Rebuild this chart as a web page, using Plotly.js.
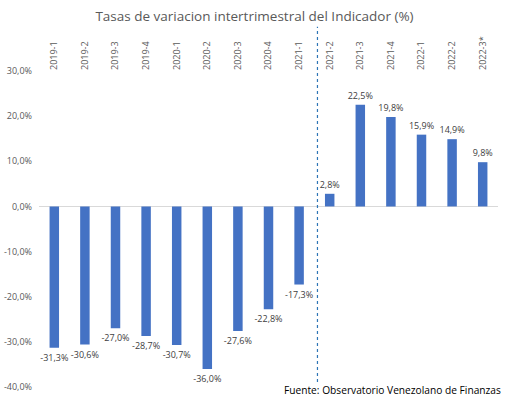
<!DOCTYPE html>
<html>
<head>
<meta charset="utf-8">
<script src="https://cdn.plot.ly/plotly-3.0.1.min.js"></script>
<style>html,body{margin:0;padding:0;background:#fff;}#chart{width:509px;height:399px;}</style>
</head>
<body>
<div id="chart"></div>
<script>
const categories = ["2019-1","2019-2","2019-3","2019-4","2020-1","2020-2","2020-3","2020-4","2021-1","2021-2","2021-3","2021-4","2022-1","2022-2","2022-3*"];
const values = [-31.3,-30.6,-27.0,-28.7,-30.7,-36.0,-27.6,-22.8,-17.3,2.8,22.5,19.8,15.9,14.9,9.8];
const yTicks = [-40,-30,-20,-10,0,10,20,30];
const yTickLabels = ["-40,0%","-30,0%","-20,0%","-10,0%","0,0%","10,0%","20,0%","30,0%"];
const titleText = "Tasas de variacion intertrimestral del Indicador (%)";
const sourceText = "Fuente: Observatorio Venezolano de Finanzas";
const dividerPosition = 8.6;

const font = "Open Sans, Noto Sans, sans-serif";
const trace = {
  type: "bar",
  x: categories,
  y: values,
  marker: {color: "#4472C4"},
  texttemplate: "%{y:.1f}%",
  textposition: "outside",
  constraintext: "none",
  cliponaxis: false,
  textfont: {family: font, size: 9, color: "#404040"},
  hoverinfo: "none"
};
const layout = {
  width: 509, height: 399,
  margin: {l: 39, r: 11, t: 71, b: 12},
  paper_bgcolor: "#fff", plot_bgcolor: "#fff",
  separators: ", ",
  showlegend: false,
  bargap: 0.69,
  title: {text: titleText, x: 0.5, xanchor: "center", y: 0.958, yanchor: "middle",
          font: {family: font, size: 13.5, color: "#595959"}},
  xaxis: {type: "category", side: "top", tickangle: -90, showgrid: false, showline: false,
          ticks: "", tickfont: {family: font, size: 9, color: "#595959"}, automargin: false},
  yaxis: {range: [-40, 30], tickmode: "array", tickvals: yTicks, ticktext: yTickLabels,
          showgrid: false, zeroline: true, zerolinecolor: "#d9d9d9", zerolinewidth: 1,
          showline: false, ticks: "", ticklabelstandoff: 6,
          tickfont: {family: font, size: 9, color: "#595959"}, automargin: false},
  shapes: [{type: "line", xref: "x", yref: "paper", x0: dividerPosition, x1: dividerPosition,
            y0: 0.016, y1: 1.14, line: {color: "#2E75B6", width: 1.2, dash: "3px,3px"}}],
  annotations: [{text: sourceText, xref: "paper", yref: "paper", x: 1.01, y: -0.008,
                 xanchor: "right", yanchor: "middle", showarrow: false,
                 font: {family: font, size: 10.2, color: "#000"}}]
};
Plotly.newPlot("chart", [trace], layout, {staticPlot: true, displayModeBar: false});
</script>
</body>
</html>
